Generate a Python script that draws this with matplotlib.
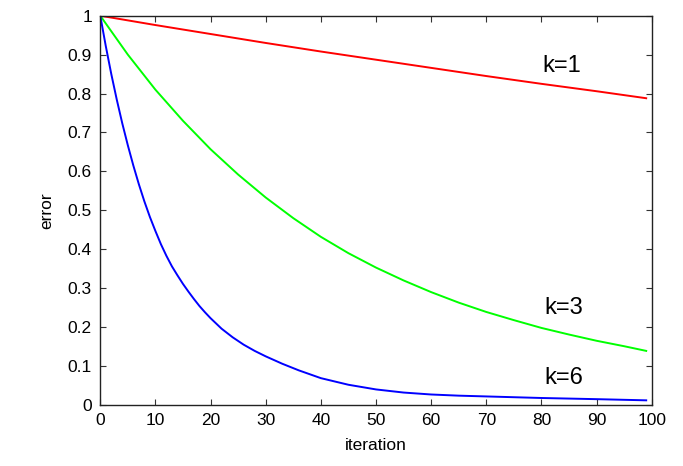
import matplotlib
matplotlib.use('Agg')
import matplotlib.pyplot as plt

plt.rcParams['font.family'] = ['Liberation Sans', 'DejaVu Sans']

# error vs iteration
iter_k1 = [0, 10, 20, 30, 40, 50, 60, 70, 80, 90, 99]
err_k1 = [1.0, 0.976, 0.953, 0.930, 0.908, 0.887, 0.866, 0.845, 0.825, 0.806, 0.788]

iter_k3 = [0, 5, 10, 15, 20, 25, 30, 35, 40, 45, 50, 55, 60, 65, 70, 75, 80, 85, 90, 95, 99]
err_k3 = [1.0, 0.900, 0.810, 0.730, 0.657, 0.592, 0.533, 0.480, 0.432, 0.390, 0.353,
          0.320, 0.290, 0.263, 0.239, 0.218, 0.198, 0.181, 0.165, 0.151, 0.139]

iter_k6 = [0, 1, 2, 3, 4, 5, 6, 7, 8, 9, 10, 11, 12, 13, 14, 15, 16, 17, 18, 19, 20,
           22, 24, 26, 28, 30, 33, 36, 40, 45, 50, 55, 60, 65, 70, 80, 90, 99]
err_k6 = [1.0, 0.922, 0.850, 0.784, 0.723, 0.667, 0.615, 0.567, 0.523, 0.483, 0.447,
          0.413, 0.383, 0.356, 0.333, 0.311, 0.291, 0.272, 0.254, 0.238, 0.223,
          0.196, 0.174, 0.155, 0.139, 0.125, 0.106, 0.089, 0.069, 0.052, 0.040,
          0.032, 0.027, 0.024, 0.022, 0.018, 0.015, 0.012]

labels = ['k=1', 'k=3', 'k=6']
label_x = [83.7, 84, 84]
label_y = [0.871, 0.249, 0.069]

xticks = list(range(0, 101, 10))
yticks = [0, 0.1, 0.2, 0.3, 0.4, 0.5, 0.6, 0.7, 0.8, 0.9, 1]
ytick_labels = ['0', '0.1', '0.2', '0.3', '0.4', '0.5', '0.6', '0.7', '0.8', '0.9', '1']

fig = plt.figure(figsize=(6.83, 4.66), dpi=100)
ax = fig.add_axes([0.1468, 0.1309, 0.9542 - 0.1468, 0.9663 - 0.1309])

ax.plot(iter_k1, err_k1, color='#ff0000', lw=1.4)
ax.plot(iter_k3, err_k3, color='#00ff00', lw=1.4)
ax.plot(iter_k6, err_k6, color='#0000ff', lw=1.4)

for txt, x, y in zip(labels, label_x, label_y):
    ax.text(x, y, txt, fontsize=17, ha='center', va='center')

ax.set_xlim(0, 100)
ax.set_ylim(0, 1)
ax.set_xticks(xticks)
ax.set_yticks(yticks)
ax.set_yticklabels(ytick_labels)
ax.tick_params(direction='in', length=4.5, width=0.8, top=True, right=True,
               labelsize=12.5, pad=6, color='#333333')
for s in ax.spines.values():
    s.set_linewidth(1.0)
    s.set_color('#222222')

ax.set_xlabel('iteration', fontsize=12.5, labelpad=7)
ax.set_ylabel('error', fontsize=12.5, labelpad=10)

fig.savefig('out.png', dpi=100)
